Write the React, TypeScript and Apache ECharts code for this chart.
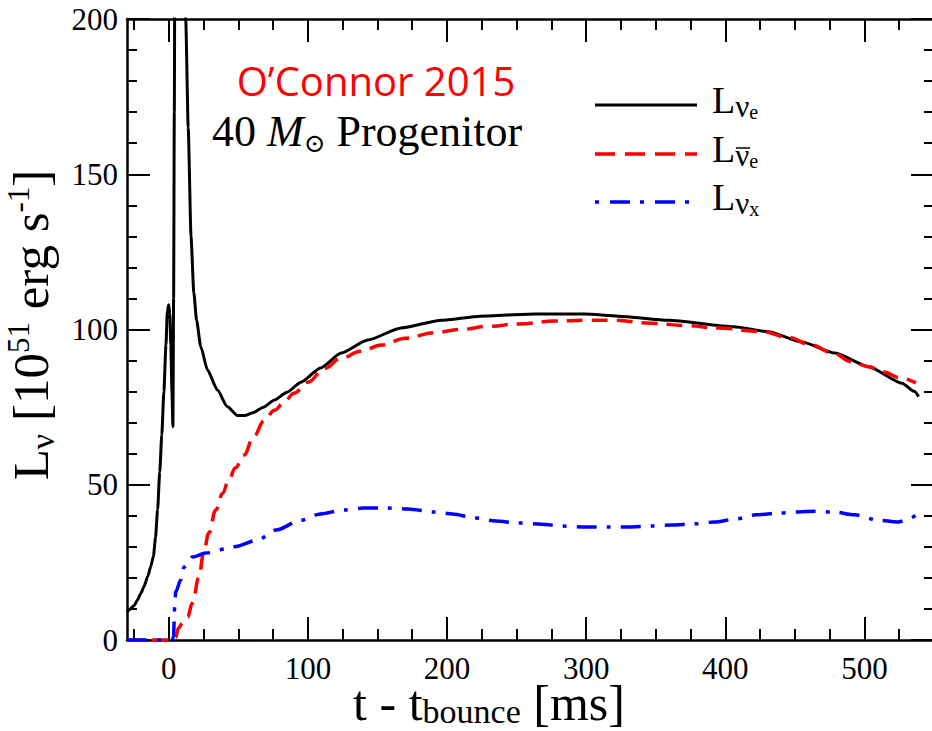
import React, { useEffect, useRef } from "react";
import * as echarts from "echarts";

// Axis ranges and ticks
const X_MIN = -30;
const X_MAX = 550;
const Y_MIN = 0;
const Y_MAX = 200;
const Y_STEP = 50;
const xMajorTicks = [0, 100, 200, 300, 400, 500];
const xMinorTicks = [-25, 25, 50, 75, 125, 150, 175, 225, 250, 275, 325, 350, 375, 425, 450, 475, 525];

// Electron neutrino luminosity [t (ms), L (1e51 erg/s)]
const lumNuE: [number, number][] = [
  [-30, 9.0], [-28.5, 9.7], [-25, 11], [-22.5, 12.9], [-20, 15], [-18, 17], [-15, 20.5],
  [-13, 23.6], [-11, 27], [-9.5, 33], [-8, 42], [-6.5, 54], [-5, 66], [-3.5, 80],
  [-2, 95], [-1, 106], [0, 108], [0.8, 105], [1.5, 95], [2.3, 80], [3, 68.7], [3.5, 110],
  [4, 170], [4.5, 240], [7, 320], [10, 260], [12.2, 200], [14, 165], [16, 130], [18, 112],
  [20, 103], [23, 94.5], [27.8, 87], [35, 80.5], [42, 75.2], [49.4, 72.3], [55, 72.3],
  [61, 73.3], [68, 75], [76, 77.3], [85, 79.8], [95, 83], [109, 87.6], [124, 92.4],
  [143, 96.6], [167, 100.5], [196, 103], [224, 104.3], [263, 105], [299, 105],
  [323, 104.3], [359, 103], [406, 100.9], [431, 99.3], [455, 96], [479, 92.4],
  [503, 88], [527, 82.7], [536, 80], [539, 78.4],
];

// Electron antineutrino luminosity
const lumAntiNuE: [number, number][] = [
  [-30, 0], [4, 0], [5, 0.8], [7, 3.9], [10, 5.5], [13.5, 7.4], [17, 11.9], [21.7, 20.3],
  [25, 28], [28.8, 34.5], [33.8, 41.9], [38.8, 47.3], [43, 51.5], [48, 55.5], [54, 59.5],
  [61, 65.5], [68.6, 70.6], [76, 74], [83, 76.6], [90, 79.5], [100, 83], [112, 87.5],
  [124, 90.8], [138, 93], [153, 95], [170, 97.2], [191, 99], [210, 100], [229, 101],
  [252, 101.8], [277, 102.7], [300, 103], [320, 103], [347, 102], [371, 101.3],
  [395, 100.5], [426, 99.3], [445, 97.5], [462, 95], [477, 92.5], [491, 89.6],
  [503, 88], [514, 86.3], [525, 84.5], [537, 82.8],
];

// Heavy-lepton neutrino luminosity
const lumNuX: [number, number][] = [
  [-30, 0], [2.5, 0], [3.4, 1], [4.3, 10.6], [5, 15.5], [8.6, 19.3], [11, 23.5],
  [17, 26.7], [26.6, 28], [47, 30], [64, 32.2], [77, 35.4], [95, 38.6], [109, 40.6],
  [126, 41.9], [140, 42.5], [157, 42.5], [172, 42.2], [191, 41.2], [204, 40.6],
  [220, 39.3], [235, 38.3], [251, 37.7], [268, 37.3], [283, 36.7], [299, 36.4],
  [316, 36.4], [330, 36.4], [347, 36.7], [361, 37.0], [378, 37.4], [392, 38.0],
  [408, 39], [422, 40.3], [439, 40.9], [451, 41.2], [464, 41.5], [478, 41.2],
  [493, 40.3], [510, 38.6], [524, 38.0], [532, 39], [539, 41],
];

const SERIF = "'Liberation Serif', 'Times New Roman', serif";
const BLACK = "#000000";
const RED = "#ff0000";
const BLUE = "#0000ff";

const GRID = { left: 127, top: 19, width: 807, height: 621 };

const frameLine = { show: true, onZero: false, lineStyle: { color: BLACK, width: 2.5 } };
const tickLine = { color: BLACK, width: 2 };
const tickLabelStyle = { fontFamily: SERIF, fontSize: 31, lineHeight: 30, color: BLACK };

function textWidth(text: string, size: number) {
  const ctx = document.createElement("canvas").getContext("2d");
  if (!ctx) return text.length * size * 0.5;
  ctx.font = `${size}px ${SERIF}`;
  return ctx.measureText(text).width;
}

// Lays out a horizontal run of text pieces (with sub/superscript offsets) centred on cx.
function textRun(cx: number, cy: number, pieces: { t: string; size: number; dy: number }[]) {
  const widths = pieces.map((p) => textWidth(p.t, p.size));
  const total = widths.reduce((a, b) => a + b, 0);
  let x = cx - total / 2;
  return pieces.map((p, i) => {
    const el = {
      type: "text",
      x,
      y: cy + p.dy,
      style: {
        text: p.t,
        fontFamily: SERIF,
        fontSize: p.size,
        fill: BLACK,
        align: "left",
        verticalAlign: "middle",
      },
    };
    x += widths[i];
    return el;
  });
}

function xAxisDef(position: "top" | "bottom", major: boolean) {
  return {
    type: "value",
    min: X_MIN,
    max: X_MAX,
    position,
    splitLine: { show: false },
    axisLine: major ? frameLine : { show: false, onZero: false },
    axisTick: {
      show: true,
      inside: true,
      length: major ? 23 : 11,
      lineStyle: tickLine,
      customValues: major ? xMajorTicks : xMinorTicks,
    },
    axisLabel:
      major && position === "bottom"
        ? { show: true, customValues: xMajorTicks, margin: 13, ...tickLabelStyle }
        : { show: false },
  };
}

function yAxisDef(position: "left" | "right") {
  return {
    type: "value",
    min: Y_MIN,
    max: Y_MAX,
    interval: Y_STEP,
    position,
    splitLine: { show: false },
    axisLine: frameLine,
    axisTick: { show: true, inside: true, length: 23, lineStyle: tickLine },
    minorTick: { show: true, splitNumber: 5, length: 10, lineStyle: tickLine },
    minorSplitLine: { show: false },
    axisLabel:
      position === "left"
        ? { show: true, margin: 9, ...tickLabelStyle }
        : { show: false },
  };
}

function legendRow(y: number, label: string, bar: boolean, lineStyle: any) {
  const items: any[] = [
    {
      type: "line",
      shape: { x1: 595, y1: y, x2: 697, y2: y },
      style: { ...lineStyle, lineCap: "butt" },
    },
    {
      type: "text",
      x: 712,
      y: y - 5,
      style: {
        text: `{L|L}{n|ν}{s|${label}}`,
        verticalAlign: "middle",
        align: "left",
        rich: {
          L: { fontFamily: SERIF, fontSize: 38, lineHeight: 44, fill: BLACK },
          n: { fontFamily: SERIF, fontSize: 31, lineHeight: 26, verticalAlign: "bottom", fill: BLACK },
          s: { fontFamily: SERIF, fontSize: 20, lineHeight: 2, verticalAlign: "bottom", fill: BLACK },
        },
      },
    },
  ];
  if (bar) {
    items.push({
      type: "line",
      shape: { x1: 736, y1: y - 6, x2: 750, y2: y - 6 },
      style: { stroke: BLACK, lineWidth: 1.5 },
    });
  }
  return items;
}

export default function App() {
  const ref = useRef<HTMLDivElement>(null);

  useEffect(() => {
    if (!ref.current) return;
    const chart = echarts.init(ref.current, null, { renderer: "svg" });

    const xTitle = textRun(489, 703, [
      { t: "t - t", size: 50, dy: 0 },
      { t: "bounce", size: 34, dy: 8 },
      { t: " [ms]", size: 50, dy: 0 },
    ]);

    const option: any = {
      animation: false,
      backgroundColor: "#ffffff",
      grid: { ...GRID, containLabel: false },
      xAxis: [
        xAxisDef("bottom", true),
        xAxisDef("bottom", false),
        xAxisDef("top", true),
        xAxisDef("top", false),
      ],
      yAxis: [yAxisDef("left"), yAxisDef("right")],
      series: [
        {
          name: "nu_e",
          type: "line",
          data: lumNuE,
          xAxisIndex: 0,
          yAxisIndex: 0,
          showSymbol: false,
          clip: true,
          smooth: 0.2,
          smoothMonotone: "x",
          lineStyle: { color: BLACK, width: 3, join: "round" },
          z: 3,
        },
        {
          name: "anti_nu_e",
          type: "line",
          data: lumAntiNuE,
          xAxisIndex: 0,
          yAxisIndex: 0,
          showSymbol: false,
          clip: true,
          smooth: 0.4,
          smoothMonotone: "x",
          lineStyle: { color: RED, width: 3.5, type: [16, 9], join: "round" },
          z: 4,
        },
        {
          name: "nu_x",
          type: "line",
          data: lumNuX,
          xAxisIndex: 0,
          yAxisIndex: 0,
          showSymbol: false,
          clip: true,
          smooth: 0.3,
          smoothMonotone: "x",
          lineStyle: { color: BLUE, width: 3.5, type: [20, 10, 4, 10], join: "round" },
          z: 4,
        },
      ],
      graphic: [
        {
          type: "text",
          x: 376,
          y: 80,
          style: {
            text: "O’Connor 2015",
            fontFamily: "'Open Sans', 'Noto Sans', sans-serif",
            fontSize: 40,
            fill: RED,
            align: "center",
            verticalAlign: "middle",
          },
        },
        {
          type: "text",
          x: 212,
          y: 131,
          style: {
            text: "{a|40 }{m|M}{o|⊙}{a| Progenitor}",
            align: "left",
            verticalAlign: "middle",
            rich: {
              a: { fontFamily: SERIF, fontSize: 44, lineHeight: 50, fill: BLACK },
              m: { fontFamily: SERIF, fontStyle: "italic", fontSize: 44, lineHeight: 50, fill: BLACK },
              o: { fontFamily: "'DejaVu Serif', serif", fontSize: 26, lineHeight: 8, verticalAlign: "bottom", fill: BLACK },
            },
          },
        },
        ...legendRow(105, "e", false, { stroke: BLACK, lineWidth: 3 }),
        ...legendRow(154, "e", true, { stroke: RED, lineWidth: 3.5, lineDash: [20, 10] }),
        ...legendRow(202, "x", false, { stroke: BLUE, lineWidth: 3.5, lineDash: [4, 11, 20, 10] }),
        ...xTitle,
        {
          type: "text",
          x: 31,
          y: 325,
          rotation: Math.PI / 2,
          style: {
            text: "{a|L}{b|ν}{a| [10}{c|51}{a| erg s}{c|-1}{a|]}",
            align: "center",
            verticalAlign: "middle",
            rich: {
              a: { fontFamily: SERIF, fontSize: 51, lineHeight: 56, fill: BLACK },
              b: { fontFamily: SERIF, fontSize: 34, lineHeight: 24, verticalAlign: "bottom", fill: BLACK },
              c: { fontFamily: SERIF, fontSize: 31, lineHeight: 24, verticalAlign: "top", fill: BLACK },
            },
          },
        },
      ],
    };

    chart.setOption(option);
    return () => chart.dispose();
  }, []);

  return (
    <div
      style={{
        position: "fixed",
        left: 0,
        top: 0,
        width: 932,
        height: 731,
        overflow: "hidden",
        background: "#ffffff",
      }}
    >
      <div ref={ref} style={{ width: 940, height: 731 }} />
    </div>
  );
}
